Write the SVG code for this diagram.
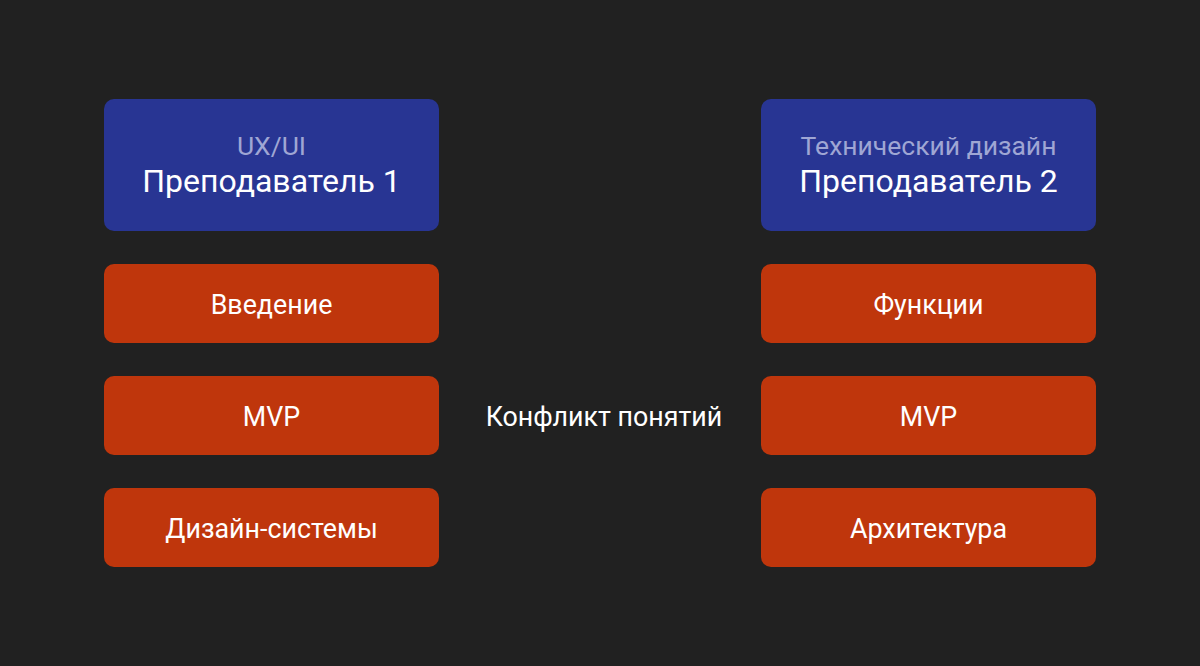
<svg xmlns="http://www.w3.org/2000/svg" width="1200" height="666" viewBox="0 0 1200 666">
<style>
.bg{fill:#212121}
.head{fill:#283593}
.item{fill:#bf360c}
text{font-family:Roboto,"Noto Sans",sans-serif;text-anchor:middle}
.sub{fill:#9fa6d4;font-size:26.5px}
.title{fill:#ffffff;font-size:32px}
.lbl{fill:#ffffff;font-size:26.8px}
</style>
<rect class="bg" x="0" y="0" width="1200" height="666"/>
<g id="head1"><rect class="head" x="104" y="99" width="335" height="132" rx="10"/><text class="sub" x="271.5" y="155">UX/UI</text><text class="title" x="271.5" y="192">Преподаватель 1</text></g>
<g id="head2"><rect class="head" x="761" y="99" width="335" height="132" rx="10"/><text class="sub" x="928.5" y="155">Технический дизайн</text><text class="title" x="928.5" y="192">Преподаватель 2</text></g>
<g id="l1"><rect class="item" x="104" y="264" width="335" height="79" rx="10"/><text class="lbl" x="271.5" y="314">Введение</text></g>
<g id="l2"><rect class="item" x="104" y="376" width="335" height="79" rx="10"/><text class="lbl" x="271.5" y="426">MVP</text></g>
<g id="l3"><rect class="item" x="104" y="488" width="335" height="79" rx="10"/><text class="lbl" x="271.5" y="538">Дизайн-системы</text></g>
<g id="r1"><rect class="item" x="761" y="264" width="335" height="79" rx="10"/><text class="lbl" x="928.5" y="314">Функции</text></g>
<g id="r2"><rect class="item" x="761" y="376" width="335" height="79" rx="10"/><text class="lbl" x="928.5" y="426">MVP</text></g>
<g id="r3"><rect class="item" x="761" y="488" width="335" height="79" rx="10"/><text class="lbl" x="928.5" y="538">Архитектура</text></g>
<g id="center"><text class="lbl" x="604" y="426">Конфликт понятий</text></g>
<g id="connectors"></g>
</svg>
